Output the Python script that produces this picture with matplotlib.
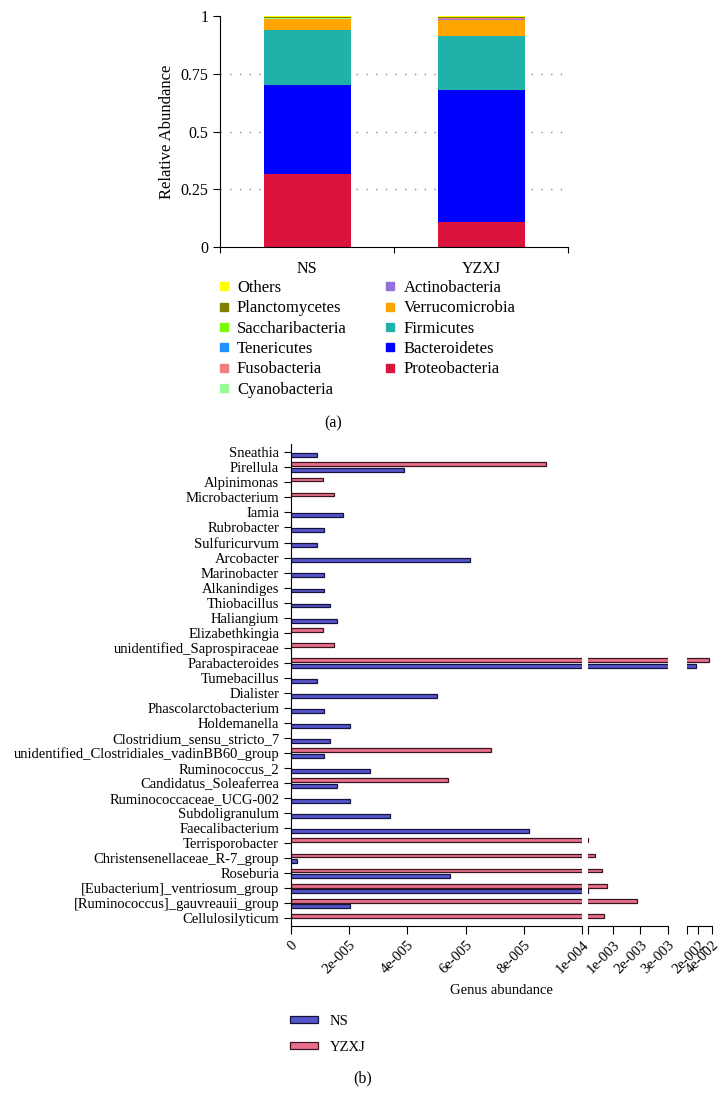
import numpy as np
import matplotlib
matplotlib.use("Agg")
import matplotlib.pyplot as plt
from matplotlib.lines import Line2D
from matplotlib.patches import Patch

plt.rcParams['font.family'] = ['Liberation Serif', 'DejaVu Serif']

# ---- (a) phylum relative abundance ----
groups = ['NS', 'YZXJ']
phyla = ['Proteobacteria', 'Bacteroidetes', 'Firmicutes', 'Verrucomicrobia',
         'Actinobacteria', 'Cyanobacteria', 'Fusobacteria', 'Tenericutes',
         'Saccharibacteria', 'Planctomycetes', 'Others']
phylum_colors = ['#dc143c', '#0000ff', '#20b2aa', '#ffa500', '#9370db', '#98fb98',
                 '#f08080', '#1e90ff', '#7cfc00', '#808000', '#ffff00']
ns_abund = [0.317, 0.386, 0.235, 0.049, 0.002, 0.001, 0.001, 0.001, 0.001, 0.004, 0.003]
yzxj_abund = [0.109, 0.571, 0.234, 0.069, 0.005, 0.001, 0.001, 0.001, 0.001, 0.002, 0.006]

# ---- (b) genus abundance ----
genera = ['Sneathia', 'Pirellula', 'Alpinimonas', 'Microbacterium', 'Iamia',
          'Rubrobacter', 'Sulfuricurvum', 'Arcobacter', 'Marinobacter', 'Alkanindiges',
          'Thiobacillus', 'Haliangium', 'Elizabethkingia', 'unidentified_Saprospiraceae',
          'Parabacteroides', 'Tumebacillus', 'Dialister', 'Phascolarctobacterium',
          'Holdemanella', 'Clostridium_sensu_stricto_7',
          'unidentified_Clostridiales_vadinBB60_group', 'Ruminococcus_2',
          'Candidatus_Soleaferrea', 'Ruminococcaceae_UCG-002', 'Subdoligranulum',
          'Faecalibacterium', 'Terrisporobacter', 'Christensenellaceae_R-7_group',
          'Roseburia', '[Eubacterium]_ventriosum_group', '[Ruminococcus]_gauvreauii_group',
          'Cellulosilyticum']
ns_genus = [9.1e-6, 3.9e-5, 0, 0, 1.8e-5, 1.13e-5, 9.1e-6, 6.14e-5, 1.13e-5, 1.12e-5,
            1.34e-5, 1.59e-5, 0, 0, 1.6e-2, 9.1e-6, 5.0e-5, 1.13e-5, 2.03e-5, 1.34e-5,
            1.13e-5, 2.72e-5, 1.59e-5, 2.03e-5, 3.41e-5, 8.18e-5, 0, 2.2e-6, 5.46e-5,
            1.02e-4, 2.03e-5, 0]
yzxj_genus = [0, 8.75e-5, 1.11e-5, 1.48e-5, 0, 0, 0, 0, 0, 0,
              0, 0, 1.11e-5, 1.48e-5, 3.6e-2, 0, 0, 0, 0, 0,
              6.89e-5, 0, 5.39e-5, 0, 0, 0, 1.05e-4, 3.5e-4, 6.2e-4,
              7.8e-4, 1.87e-3, 6.9e-4]

seg_limits = [(0, 1e-4), (1e-4, 3e-3), (3e-3, 4e-2)]
seg_ticks = [[0, 2e-5, 4e-5, 6e-5, 8e-5, 1e-4], [1e-4, 1e-3, 2e-3, 3e-3], [3e-3, 2e-2, 4e-2]]
seg_labels = [['0', '2e-005', '4e-005', '6e-005', '8e-005', '1e-004'],
              ['', '1e-003', '2e-003', '3e-003'], ['', '2e-002', '4e-002']]

W, H = 725, 1109
fig = plt.figure(figsize=(W / 100, H / 100), dpi=100)

def box(x0, y0, x1, y1):
    return [x0 / W, 1 - y1 / H, (x1 - x0) / W, (y1 - y0) / H]

# ---------- panel (a) ----------
ax = fig.add_axes(box(220, 16, 568, 247))
bottoms = np.zeros(2)
for name, col, a, b in zip(phyla, phylum_colors, ns_abund, yzxj_abund):
    vals = np.array([a, b])
    ax.bar([0, 1], vals, bottom=bottoms, width=0.5, color=col, label=name, zorder=2)
    bottoms += vals
ax.set_xlim(-0.5, 1.5)
ax.set_ylim(0, 1)
ax.set_yticks([0, 0.25, 0.5, 0.75, 1])
ax.set_yticklabels(['0', '0.25', '0.5', '0.75', '1'], fontsize=11.5)
ax.set_xticks([-0.5, 0.5, 1.5])
ax.set_xticklabels([])
ax.set_xticks([0, 1], minor=True)
ax.set_xticklabels(groups, minor=True, fontsize=11.5)
ax.tick_params(axis='x', which='minor', length=0, pad=10)
ax.tick_params(axis='x', which='major', length=4, direction='out')
ax.tick_params(axis='y', length=5)
for y in [0.25, 0.5, 0.75]:
    ax.axhline(y, color='#888888', linestyle=(0, (1, 6)), linewidth=1, zorder=1)
ax.spines['top'].set_visible(False)
ax.spines['right'].set_visible(False)
ax.set_ylabel('Relative Abundance', fontsize=12)

order = list(range(len(phyla)))[::-1]
handles = [Line2D([], [], marker='s', linestyle='None', markersize=5.5,
                  markerfacecolor=phylum_colors[i], markeredgecolor=phylum_colors[i]) for i in order]
labels = [phyla[i] for i in order]
fig.legend(handles, labels, ncol=2, loc='upper left', bbox_to_anchor=(217 / W, 1 - 280 / H),
           frameon=False, fontsize=12, handlelength=0.8, handletextpad=0.4,
           labelspacing=0.26, columnspacing=2.2, borderaxespad=0, borderpad=0)

fig.text(333 / W, 1 - 423 / H, '(a)', ha='center', va='center', fontsize=11.5)

# ---------- panel (b) ----------
ypos = np.arange(len(genera))[::-1]
ns_arr = np.array(ns_genus)
yz_arr = np.array(yzxj_genus)
seg_px = [(291, 582), (588, 668), (687, 712)]
for k, ((x0, x1), lim) in enumerate(zip(seg_px, seg_limits)):
    axb = fig.add_axes(box(x0, 444, x1, 926))
    m = ns_arr > lim[0]
    axb.barh(ypos[m] - 0.19, ns_arr[m], height=0.26, color='#5555cc',
             edgecolor='#14143c', linewidth=0.9)
    m = yz_arr > lim[0]
    axb.barh(ypos[m] + 0.19, yz_arr[m], height=0.26, color='#e8708c',
             edgecolor='#3c1420', linewidth=0.9)
    axb.set_xlim(*lim)
    axb.set_ylim(-0.5, len(genera) - 0.45)
    axb.set_xticks(seg_ticks[k])
    axb.set_xticklabels(seg_labels[k], rotation=45, ha='right', rotation_mode='anchor',
                        fontsize=10.5)
    axb.tick_params(axis='x', length=6, pad=3)
    for s in ['top', 'right']:
        axb.spines[s].set_visible(False)
    if k == 0:
        axb.set_yticks(ypos)
        axb.set_yticklabels(genera, fontsize=10.5)
        axb.tick_params(axis='y', length=5)
    else:
        axb.spines['left'].set_visible(False)
        axb.set_yticks([])

fig.text(501 / W, 1 - 990 / H, 'Genus abundance', ha='center', va='center', fontsize=10.5)

leg_handles = [Patch(facecolor='#5555cc', edgecolor='#14143c', linewidth=0.9),
               Patch(facecolor='#e8708c', edgecolor='#3c1420', linewidth=0.9)]
fig.legend(leg_handles, ['NS', 'YZXJ'], loc='upper left', bbox_to_anchor=(290 / W, 1 - 1015 / H),
           frameon=False, fontsize=10.5, handlelength=1.9, handleheight=0.35,
           labelspacing=0.9, handletextpad=0.8, borderaxespad=0, borderpad=0)

fig.text(363 / W, 1 - 1078 / H, '(b)', ha='center', va='center', fontsize=11.5)

fig.savefig('out.png', dpi=100)
